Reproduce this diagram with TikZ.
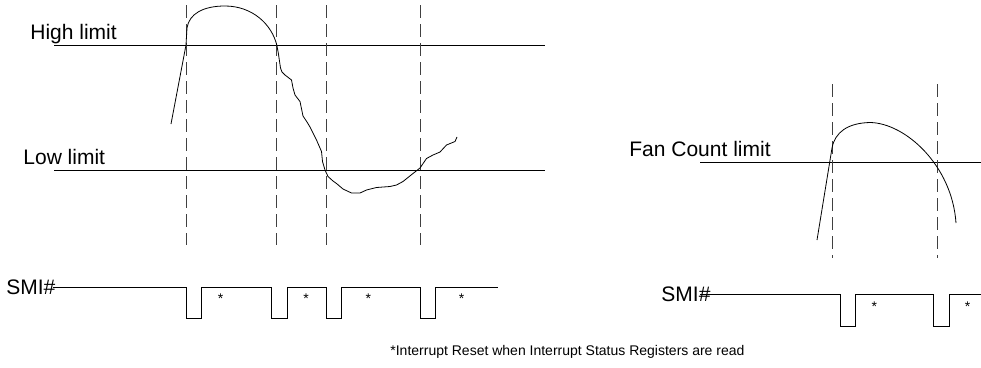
\documentclass[tikz,border=0pt]{standalone}
\usepackage{fontspec}
\setmainfont{Liberation Sans}
\usepackage{tikz}
\newcommand{\labelfont}{\fontsize{21}{25}\selectfont}
\newcommand{\notefont}{\fontsize{14}{17}\selectfont}
% one SMI# low pulse: fall at #1, rise at #2, high level #3, low level #4
\newcommand{\dip}[4]{-- (#1,#3) -- (#1,#4) -- (#2,#4) -- (#2,#3)}
\tikzset{
  guide/.style={dash pattern=on 13pt off 6pt,draw=black!75},
  trace/.style={line join=round},
  labeltext/.style={font=\labelfont,inner sep=0pt},
  notetext/.style={font=\notefont,inner sep=0pt}
}

\begin{document}
\begin{tikzpicture}
        [x=1pt,y=-1pt,line width=0.8pt]
        \useasboundingbox (0,0) rectangle (981,367);
        % labels
        \node[labeltext,anchor=base west] (high) at (30,39) {High limit};
        \node[labeltext,anchor=base west] (low) at (23,164) {Low limit};
        \node[labeltext,anchor=base west] (fan) at (629,156) {Fan Count limit};
        \node[labeltext,anchor=west] (smileft) at (6,287) {SMI\#};
        \node[labeltext,anchor=west] (smiright) at (661,294) {SMI\#};
        \node[notetext,anchor=base west] (note) at (390,355)
            {*Interrupt Reset when Interrupt Status Registers are read};
        % limits
        \draw (54,45.5) -- (545,45.5);
        \draw (54,170) -- (545,170);
        \draw (700,162) -- (981,162);
        % guides
        \foreach \x in {186,276,326.5,420} \draw[guide] (\x,5) -- (\x,245);
        \foreach \x in {832,937} \draw[guide] (\x,84) -- (\x,258);
        % temperature / voltage reading
        \draw[trace] (171,124) -- (186,45) -- (187,28)
            .. controls (189,14) and (203,6) .. (225,6)
            .. controls (252,6) and (272,24) .. (277,46)
            -- (278.3,53) -- (280.5,68) -- (282,72) -- (285,75) -- (291.5,80)
            -- (293,88) -- (295,95) -- (300,101.5) -- (303,116) -- (307,122)
            -- (310,127) -- (316.5,140) -- (321.5,151.5) -- (322.5,161.5)
            -- (325,170) -- (328,176.5) -- (333,181) -- (336.5,183.5)
            -- (343,189) -- (351.5,193) -- (360,193) -- (366.5,190)
            -- (376.5,187.5) -- (390,186.5) -- (396.5,185) -- (403,181.5)
            -- (413,173.5) -- (420,168) -- (426.5,158.5) -- (433,155)
            -- (440,152) -- (446.5,145) -- (455,141.5) -- (457,137);
        % fan count
        \draw[trace] (817,240) -- (832,148)
            .. controls (835,132) and (848,123) .. (870,122.5)
            .. controls (905,123) and (952,165) .. (956,223);
        % SMI# outputs
        \draw (53,287) \dip{186.5}{201.5}{287}{318} \dip{271.5}{287.5}{287}{318}
            \dip{326.5}{341.5}{287}{318} \dip{420}{435}{287}{318} -- (497.5,287);
        \draw (700,294) \dip{840}{855.7}{294}{326} \dip{933.3}{949.3}{294}{326}
            -- (981,294);
        \foreach \x [count=\i] in {220.7,306,368.3,461.7}
            \node[notetext,anchor=base] (markl\i) at (\x,303) {*};
        \foreach \x [count=\i] in {874.3,967.7}
            \node[notetext,anchor=base] (markr\i) at (\x,311) {*};
\end{tikzpicture}
\end{document}
